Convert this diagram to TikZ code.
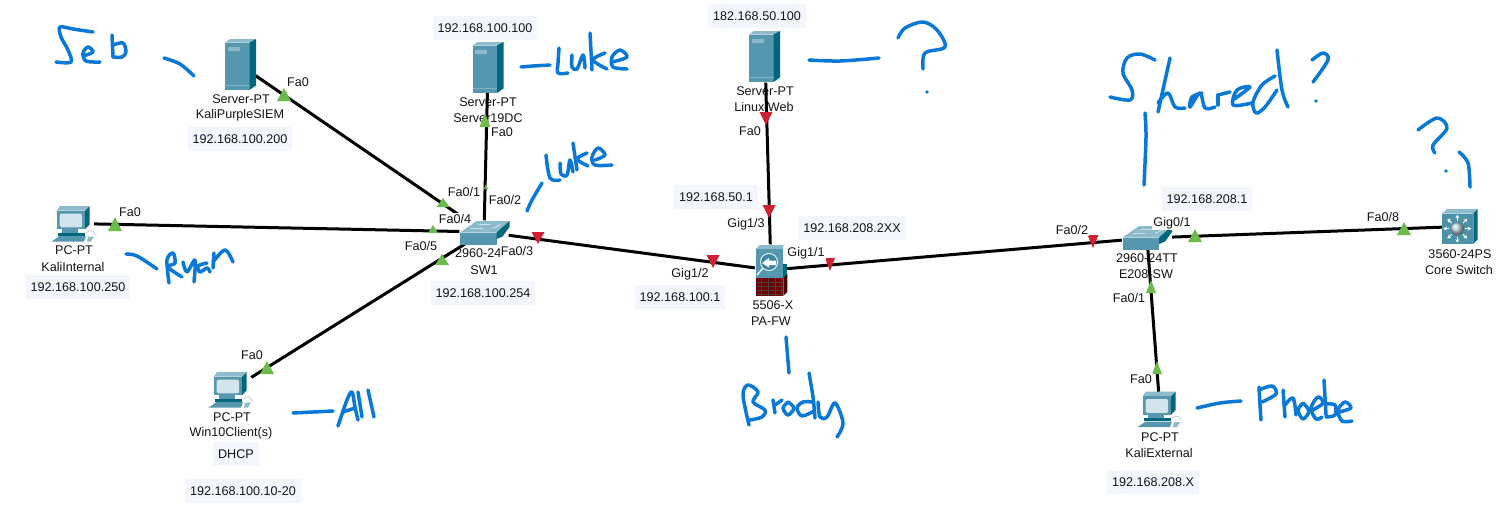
\documentclass[tikz,border=0pt]{standalone}
\usepackage{fontspec}
\setmainfont{Liberation Sans}
\usetikzlibrary{arrows.meta}
\definecolor{hand}{HTML}{0A78D6}
\definecolor{front}{HTML}{5497AE}
\definecolor{topc}{HTML}{8DBBCB}
\definecolor{sidec}{HTML}{00677F}
\definecolor{screenc}{HTML}{D4E4EC}
\definecolor{ipbg}{HTML}{F4F6FD}
\definecolor{upg}{HTML}{6CBB4B}
\definecolor{downr}{HTML}{CE2233}
\newcommand{\hw}[1]{\draw[handstroke] plot[smooth,tension=.55] coordinates {#1};}
\newcommand{\hdot}[1]{\fill[hand] #1 circle (1.8);}
\newcommand{\tup}[4]{\fill[upg] (#1-#4/2,#3) -- (#1,#2) -- (#1+#4/2,#3) -- cycle;}
\newcommand{\tdn}[4]{\fill[downr] (#1-#4/2,#2) -- (#1+#4/2,#2) -- (#1,#3) -- cycle;}
\tikzset{
  x=1pt,y=-1pt,
  every node/.style={font=\fontsize{12.6}{14}\selectfont,text=black!92},
  handstroke/.style={draw=hand,line width=3.5,line cap=round,line join=round},
  link/.style={draw=black,line width=3},
  dev/.style={inner sep=0,minimum width=#1},
  dev/.default=30,
  devname/.style={inner sep=0},
  iface/.style={fill=white,inner sep=1.2},
  ip/.style={fill=ipbg,inner xsep=5,inner ysep=0,minimum height=24},
  pics/server/.style={code={
    \fill[front] (-15.5,-22) rectangle (9,25.5);
    \fill[topc] (-15.5,-22) -- (-10.5,-25.5) -- (15.5,-25.5) -- (9,-22) -- cycle;
    \fill[sidec] (9,-22) -- (15.5,-25.5) -- (15.5,21) -- (9,25.5) -- cycle;
    \fill[topc] (-13,-18) rectangle (-1,-14);
    \draw[topc!70!front,line width=.7] (-15.5,21) -- (9,21);
  }},
  pics/pc/.style={code={
    \fill[sidec] (11,-13.3) -- (15.5,-18) -- (15.5,0.5) -- (11,5.3) -- cycle;
    \fill[topc] (-17.3,-13.3) -- (-14,-18) -- (15.5,-18) -- (11,-13.3) -- cycle;
    \fill[front] (-17.3,-13.3) rectangle (11,5.3);
    \fill[screenc,rounded corners=1.5] (-14.3,-10.5) rectangle (8.2,3.3);
    \fill[front] (-12,5.3) rectangle (4,8.7);
    \fill[sidec] (-15.7,8.7) rectangle (11,11.5);
    \fill[front] (-22.3,17.5) -- (-14.5,12) -- (12,12) -- (10,17.5) -- cycle;
    \fill[topc] (14,12.5) -- (20,12.5) -- (17,17.5) -- (13,17.5) -- cycle;
    \draw[black!25,line width=.6] (12,9) .. controls (16,5) and (20,6) .. (21,11);
  }},
  pics/switch/.style={code={
    \fill[topc] (-24.5,0) -- (-8,-11.5) -- (25,-11.5) -- (12,0) -- cycle;
    \fill[front] (-24.5,0) rectangle (12,12);
    \fill[sidec] (12,0) -- (25,-11.5) -- (25,-5.5) -- (18,4) -- (12,6.5) -- cycle;
    \draw[white!80!topc,line width=.5] (-6,-8) -- (6,-8) (-2,-4) -- (-14,-4) (8,-4) -- (16,-8);
  }},
  pics/firewall/.style={code={
    \fill[sidec] (12.3,-6) -- (16.3,-6) -- (16.3,8.3) -- (12.3,8.3) -- cycle;
    \fill[topc] (-15.3,-21) -- (-11,-25) -- (12.3,-25) -- (12.3,-21) -- cycle;
    \fill[front] (-15.3,-21) rectangle (12.3,8.3);
    \fill[black!70!red] (12.3,8.3) -- (16.3,4) -- (16.3,22) -- (12.3,25.7) -- cycle;
    \fill[red!45!black] (-15.3,8.3) rectangle (12.3,25.7);
    \foreach \yy in {12,16,20,24}{\draw[black!75,line width=.5] (-15.3,\yy) -- (12.3,\yy);}
    \foreach \xx in {-10,-3,4,10}{\draw[black!75,line width=.5] (\xx,8.3) -- (\xx,25.7);}
    \draw[white!85!front,line width=1.1] (-2,-8) circle (8.5);
    \fill[sidec!30!front] (-2,-8) circle (7.8);
    \draw[white!85!front,line width=1.6] (-8,-2) -- (-14,5);
    \fill[white] (-9,-7) -- (-2,-12) -- (-2,-9.5) -- (5,-9.5) -- (5,-5) -- (-2,-5) -- (-2,-2.5) -- cycle;
  }},
  pics/core/.style={code={
    \fill[topc] (-18,-13) -- (-13,-17.5) -- (17.7,-17.5) -- (13.3,-13) -- cycle;
    \fill[front!90!sidec] (-18,-13) rectangle (13.3,17.5);
    \fill[sidec] (13.3,-13) -- (17.7,-17.5) -- (17.7,12.8) -- (13.3,17.5) -- cycle;
    \shade[ball color=white!60!front] (-2.7,2.2) circle (6.5);
    \foreach \a in {0,45,...,315}{
      \draw[white,line width=1,-{Stealth[length=3.5,width=4]}] (-2.7,2.2) ++(\a:8) -- ++(\a:6);}
  }}
}
\begin{document}
\begin{tikzpicture}
\useasboundingbox[fill=white] (0,0) rectangle (1512,525);

% device anchors
\node[dev=31,minimum height=51] (siem) at (240,65) {};
\node[dev=31,minimum height=51] (dc) at (488,67) {};
\node[dev=31,minimum height=51] (web) at (765,57) {};
\node[dev=40,minimum height=36] (kint) at (74,223.5) {};
\node[dev=40,minimum height=36] (win) at (231,390) {};
\node[dev=40,minimum height=36] (kext) at (1160,410) {};
\node[dev=49,minimum height=23] (sw) at (484,232) {};
\node[dev=32,minimum height=51] (fw) at (771,270) {};
\node[dev=50,minimum height=23] (e208) at (1147,238) {};
\node[dev=36,minimum height=35] (core) at (1460,226.5) {};

% device names
\node[devname] (n1) at (241,99) {Server-PT};
\node[devname] (n2) at (240,115.5) {KaliPurpleSIEM};
\node[devname] (n3) at (488,102) {Server-PT};
\node[devname] (n4) at (488,118) {Server19DC};
\node[devname] (n5) at (765,91) {Server-PT};
\node[devname] (n6) at (764,107) {Linux Web};
\node[devname] (n7) at (74,250) {PC-PT};
\node[devname] (n8) at (73,267) {KaliInternal};
\node[devname] (n9) at (232,417) {PC-PT};
\node[devname] (n10) at (231,433.5) {Win10Client(s)};
\node[devname] (n11) at (1160,437) {PC-PT};
\node[devname] (n12) at (1159,453) {KaliExternal};
\node[devname,anchor=west] (n13) at (455,253) {2960-24};
\node[devname] (n14) at (484,270) {SW1};
\node[devname] (n15) at (773,305) {5506-X};
\node[devname] (n16) at (771,321) {PA-FW};
\node[devname] (n17) at (1147,258) {2960-24TT};
\node[devname] (n18) at (1146,274) {E208-SW};
\node[devname] (n19) at (1460,254) {3560-24PS};
\node[devname] (n20) at (1459,270) {Core Switch};

% connectors
\draw[link] (siem) -- (sw);
\draw[link] (dc) -- (sw);
\draw[link] (kint) -- (sw);
\draw[link] (win) -- (sw);
\draw[link] (sw) -- (fw);
\draw[link] (web) -- (fw);
\draw[link] (fw) -- (e208);
\draw[link] (e208) -- (core);
\draw[link] (e208) -- (kext);

% icons
\pic at (240.5,64.5) {server};
\pic at (488,67.5) {server};
\pic at (764.5,56.5) {server};
\pic at (74,224) {pc};
\pic at (231,390) {pc};
\pic at (1160,409.5) {pc};
\pic at (484.5,232.5) {switch};
\pic at (1147,237.5) {switch};
\pic at (771,270) {firewall};
\pic at (1460,226.5) {core};

% link lights
\tup{284}{88}{101}{14}
\tup{115}{217}{231}{14}
\tup{267}{361}{374}{14}
\tup{443}{198}{207}{13}
\tup{486}{184}{189}{4}
\tup{485}{113}{127}{11}
\tup{433}{225}{233}{10}
\tup{442}{254}{265}{14}
\tup{1195}{229}{242}{14}
\tup{1404}{222}{235}{14}
\tup{1151}{280}{293}{10}
\tup{1157}{361}{374}{10}
\tdn{538}{232}{244}{13}
\tdn{713}{255}{268}{13}
\tdn{769}{205}{218}{13}
\tdn{830}{258}{271}{10}
\tdn{766}{112}{125}{13}
\tdn{1093}{235}{248}{11}

% interface labels
\node[iface] (i1) at (298,82) {Fa0};
\node[iface] (i2) at (130,212) {Fa0};
\node[iface] (i3) at (252,355) {Fa0};
\node[iface] (i4) at (502,132) {Fa0};
\node[iface] (i5) at (750,131) {Fa0};
\node[iface] (i6) at (1141,379) {Fa0};
\node[iface] (i7) at (464,192) {Fa0/1};
\node[iface] (i8) at (505,200) {Fa0/2};
\node[iface] (i9) at (455,219) {Fa0/4};
\node[iface] (i10) at (421,246) {Fa0/5};
\node[iface] (i11) at (517,251) {Fa0/3};
\node[iface] (i12) at (690,274) {Gig1/2};
\node[iface] (i13) at (746,224) {Gig1/3};
\node[iface] (i14) at (806,253) {Gig1/1};
\node[iface] (i15) at (1072,230) {Fa0/2};
\node[iface] (i16) at (1172,223) {Gig0/1};
\node[iface] (i17) at (1383,217) {Fa0/8};
\node[iface] (i18) at (1129,298) {Fa0/1};

% addresses
\node[ip] (a1) at (240,139) {192.168.100.200};
\node[ip] (a2) at (485,28) {192.168.100.100};
\node[ip] (a3) at (757,16) {182.168.50.100};
\node[ip] (a4) at (78,287) {192.168.100.250};
\node[ip] (a5) at (483,293) {192.168.100.254};
\node[ip] (a6) at (680,297) {192.168.100.1};
\node[ip] (a7) at (716,197) {192.168.50.1};
\node[ip] (a8) at (852,228) {192.168.208.2XX};
\node[ip] (a9) at (1207,199) {192.168.208.1};
\node[ip] (a10) at (1153,482) {192.168.208.X};
\node[ip] (a11) at (236,454) {DHCP};
\node[ip] (a12) at (243,491) {192.168.100.10-20};

% handwriting: Seb
\hw{(93,32)(73,29)(60,27)(61,37)(68,50)(71,62)(56,62)}
\hw{(83,56)(93,52)(88,47)(83,53)(86,61)(100,62)}
\hw{(112,35)(113,57)}
\hw{(113,45)(123,43)(126,52)(122,57)(113,57)}
\hw{(164,58)(180,64)(194,76)}
% Luke (server)
\hw{(521,67)(533,66)(550,65)}
\hw{(559,48)(558,63)(558,73)(568,73)}
\hw{(572,55)(572,67)(577,69)(583,55)(585,68)}
\hw{(590,33)(592,70)}
\hw{(605,53)(593,60)(607,69)}
\hw{(612,62)(627,57)(620,50)(612,57)(613,67)(627,69)}
% Luke (switch)
\hw{(542,183)(532,200)(527,211)}
\hw{(546,155)(550,178)(560,180)}
\hw{(560,163)(561,174)(567,175)(570,160)(573,172)}
\hw{(573,143)(577,170)}
\hw{(587,153)(577,159)(588,166)}
\hw{(595,160)(605,155)(598,148)(592,157)(595,165)(612,165)}
% ?
\hw{(809,60)(840,61)(879,58)}
\hw{(898,38)(905,28)(923,22)(937,30)(945,47)(925,53)(923,69)}
\hdot{(927,92)}
% Ryan
\hw{(126,254)(137,256)(157,269)}
\hw{(169,283)(167,260)(173,253)(175,263)(168,267)(182,277)}
\hw{(183,262)(187,272)(195,260)(194,282)}
\hw{(207,263)(198,266)(200,272)(207,268)(210,272)}
\hw{(214,253)(213,268)}
\hw{(213,262)(225,250)(233,262)}
% All
\hw{(293,413)(313,412)(333,411)}
\hw{(338,426)(347,400)(352,392)(355,407)(358,420)}
\hw{(343,412)(355,408)}
\hw{(358,392)(362,417)}
\hw{(368,390)(374,417)}
% Brody
\hw{(786,337)(789,373)}
\hw{(749,425)(743,395)(748,385)(758,392)(753,402)(765,410)(762,417)(750,420)}
\hw{(773,400)(775,413)}
\hw{(775,405)(782,400)}
\hw{(788,402)(783,408)(788,415)(794,408)(788,402)}
\hw{(812,402)(803,402)(797,408)(802,416)(814,411)}
\hw{(809,373)(813,397)(815,418)}
\hw{(818,402)(820,417)(827,417)(835,403)(843,423)(837,437)}
% Phoebe
\hw{(1197,408)(1220,403)(1241,401)}
\hw{(1259,387)(1260,405)(1261,420)}
\hw{(1259,390)(1272,386)(1276,394)(1262,402)}
\hw{(1283,390)(1285,417)}
\hw{(1285,405)(1293,398)(1296,415)}
\hw{(1303,403)(1298,410)(1303,419)(1309,411)(1303,403)}
\hw{(1313,410)(1323,403)(1318,397)(1311,408)(1316,419)(1322,417)}
\hw{(1324,380)(1326,415)}
\hw{(1326,404)(1335,405)(1335,415)(1326,417)}
\hw{(1339,412)(1351,408)(1345,402)(1338,410)(1342,421)(1352,421)}
% Shared?
\hw{(1155,60)(1140,54)(1127,58)(1123,73)(1132,90)(1130,100)(1110,97)}
\hw{(1170,58)(1158,112)}
\hw{(1158,103)(1168,93)(1175,107)(1185,108)}
\hw{(1202,93)(1192,97)(1190,107)(1200,93)(1205,108)(1215,107)}
\hw{(1218,95)(1218,105)}
\hw{(1218,95)(1230,92)}
\hw{(1233,100)(1250,87)(1237,90)(1233,105)(1252,103)}
\hw{(1275,76)(1262,85)(1253,102)(1256,113)(1265,107)(1277,90)}
\hw{(1277,50)(1282,90)(1288,107)}
\hw{(1312,60)(1323,53)(1328,60)(1313,82)}
\hdot{(1316,101)}
\hw{(1145,113)(1146,137)(1144,185)}
% ? core
\hw{(1418,130)(1437,118)(1447,128)(1433,145)(1435,153)}
\hdot{(1446,171)}
\hw{(1459,152)(1468,163)(1470,187)}
\end{tikzpicture}
\end{document}
